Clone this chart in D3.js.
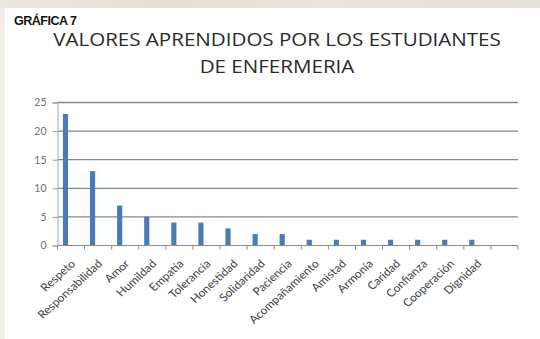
<!DOCTYPE html>
<html>
<head>
<meta charset="utf-8">
<script src="https://cdn.jsdelivr.net/npm/d3@7"></script>
<style>
  html, body { margin: 0; padding: 0; background: #ffffff; }
  svg { display: block; }
</style>
</head>
<body>
<svg id="chart" width="540" height="339"></svg>
<script>
// Valores aprendidos por los estudiantes de enfermería (frecuencias)
const categories = [
  "Respeto", "Responsabilidad", "Amor", "Humildad", "Empatía", "Tolerancia",
  "Honestidad", "Solidaridad", "Paciencia", "Acompañamiento", "Amistad",
  "Armonía", "Caridad", "Confianza", "Cooperación", "Dignidad"
];
const values = [23, 13, 7, 5, 4, 4, 3, 2, 2, 1, 1, 1, 1, 1, 1, 1];
const yTicks = [0, 5, 10, 15, 20, 25];
const titleLines = ["VALORES APRENDIDOS POR LOS ESTUDIANTES", "DE ENFERMERIA"];
const figureLabel = "GRÁFICA 7";

const svg = d3.select("#chart");
const W = 540, H = 339;
const stretchX = 1.1;   // the figure's text is drawn slightly wide

// page background: white sheet with a soft strip at the top and left edge
svg.append("rect").attr("width", W).attr("height", H).attr("fill", "#ffffff");
const topGrad = svg.append("defs").append("linearGradient")
  .attr("id", "topStrip").attr("x1", 0).attr("x2", 1).attr("y1", 0).attr("y2", 0);
topGrad.append("stop").attr("offset", "0%").attr("stop-color", "#ece8e2");
topGrad.append("stop").attr("offset", "30%").attr("stop-color", "#e6dfd4");
topGrad.append("stop").attr("offset", "60%").attr("stop-color", "#e9e4dc");
topGrad.append("stop").attr("offset", "100%").attr("stop-color", "#e4e0da");
svg.append("rect").attr("x", 0).attr("y", 0).attr("width", W).attr("height", 8)
  .attr("fill", "url(#topStrip)");
svg.append("rect").attr("x", 0).attr("y", 8).attr("width", 5).attr("height", H - 8)
  .attr("fill", "#f1eeea");

// plot area
const plotLeft = 57.5, plotRight = 518, plotTop = 102.5, plotBottom = 245.5;

const x = d3.scaleBand()
  .domain([...categories, "\u0000"])   // one trailing empty slot on the axis
  .range([plotLeft, plotRight])
  .paddingInner(0).paddingOuter(0);

const y = d3.scaleLinear().domain([0, 25]).range([plotBottom, plotTop]);

// horizontal gridlines
svg.append("g")
  .selectAll("line")
  .data(yTicks.filter(d => d > 0))
  .join("line")
  .attr("x1", plotLeft).attr("x2", plotRight)
  .attr("y1", d => y(d)).attr("y2", d => y(d))
  .attr("stroke", "#888888").attr("stroke-width", 1.3);

// y axis
const yAxis = d3.axisLeft(y).tickValues(yTicks).tickSize(5).tickPadding(6);
const gy = svg.append("g").attr("transform", `translate(${plotLeft},0)`).call(yAxis);
gy.select(".domain").attr("stroke", "#a8a8a8");
gy.selectAll(".tick line").attr("stroke", "#9a9a9a");
gy.selectAll(".tick text")
  .attr("fill", "#707070")
  .style("font-family", "Lato, 'Open Sans', sans-serif")
  .style("font-size", "10.5px");

// bars (first slot of each category group)
svg.append("g")
  .selectAll("rect")
  .data(categories.map((c, i) => ({ c, v: values[i] })))
  .join("rect")
  .attr("x", d => x(d.c) + x.bandwidth() * 0.2)
  .attr("width", x.bandwidth() * 0.19)
  .attr("y", d => y(d.v))
  .attr("height", d => y(0) - y(d.v))
  .attr("fill", "#4a7ab7");

// x axis line and category boundary ticks
svg.append("line")
  .attr("x1", plotLeft).attr("x2", plotRight)
  .attr("y1", y(0)).attr("y2", y(0))
  .attr("stroke", "#8a8a8a").attr("stroke-width", 1.2);
const boundaries = x.domain().map(d => x(d)).concat([plotRight]);
svg.append("g")
  .selectAll("line")
  .data(boundaries)
  .join("line")
  .attr("x1", d => d).attr("x2", d => d)
  .attr("y1", y(0)).attr("y2", y(0) + 4)
  .attr("stroke", "#8a8a8a");

// rotated category labels
svg.append("g")
  .selectAll("text")
  .data(categories)
  .join("text")
  .attr("transform", d =>
    `translate(${x(d) + x.bandwidth() / 2 + 5},${y(0) + 19}) scale(${stretchX},1) rotate(-45)`)
  .attr("text-anchor", "end")
  .attr("fill", "#404040")
  .style("font-family", "Lato, 'Open Sans', sans-serif")
  .style("font-size", "11px")
  .text(d => d);

// figure label
svg.append("text")
  .attr("x", 14).attr("y", 25)
  .attr("fill", "#111")
  .style("font-family", "'Liberation Sans Narrow', 'Arial Narrow', sans-serif")
  .style("font-weight", "bold")
  .style("font-size", "12.5px")
  .style("letter-spacing", "-0.5px")
  .text(figureLabel);

// chart title
svg.append("g")
  .selectAll("text")
  .data(titleLines)
  .join("text")
  .attr("transform", (d, i) => `translate(277,${46 + i * 27}) scale(${stretchX},1)`)
  .attr("text-anchor", "middle")
  .attr("fill", "#2a2a2a")
  .style("font-family", "'Open Sans', sans-serif")
  .style("font-size", "18.7px")
  .text(d => d);
</script>
</body>
</html>
